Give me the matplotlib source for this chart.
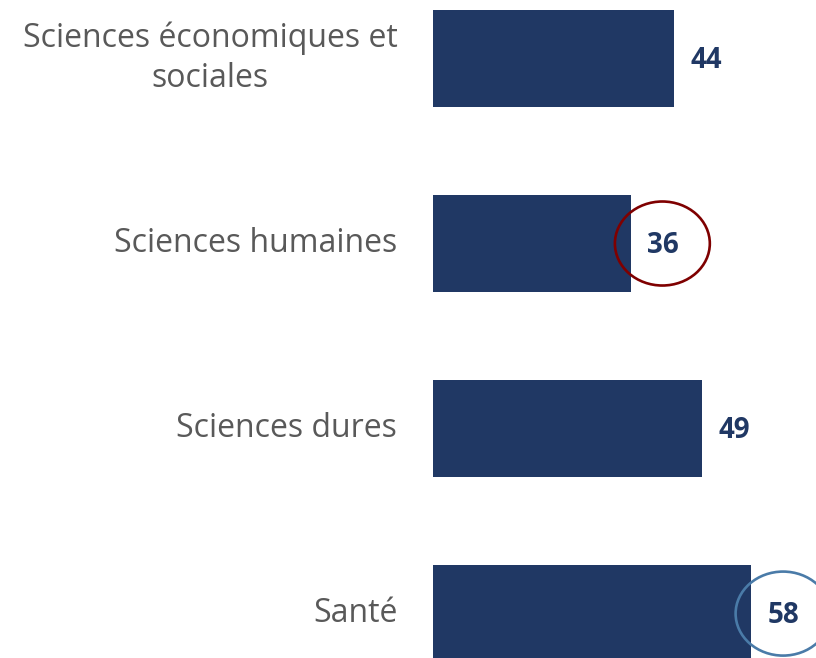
import matplotlib.pyplot as plt
from matplotlib.patches import Ellipse

categories = ["Sciences économiques et\nsociales", "Sciences humaines", "Sciences dures", "Santé"]
values = [44, 36, 49, 58]
# circled values and the colour of their ring
highlights = {1: "#7F0000", 3: "#4A7BA8"}

bar_color = "#203864"
label_color = "#595959"

plt.rcParams["font.family"] = ["Open Sans", "DejaVu Sans"]

fig = plt.figure(figsize=(8.16, 6.58), dpi=100)
ax = fig.add_axes([433 / 816, 0, 383 / 816, 1])

y = list(range(len(categories)))
ax.barh(y, values, height=0.524, color=bar_color, zorder=2)

ax.set_xlim(0, 69.8)
ax.set_ylim(3.24, -0.316)

for i, v in enumerate(values):
    ax.text(v + 3.0, i + 0.01, str(v), ha="left", va="center", fontsize=20,
            fontweight="bold", color=bar_color, zorder=4)
    if i in highlights:
        ax.add_patch(Ellipse((v + 5.8, i), 17.3, 0.454, fill=False,
                             edgecolor=highlights[i], linewidth=1.9,
                             zorder=5, clip_on=False))

# category labels at the left of the bars
for i, cat in enumerate(categories):
    ax.text(-6.5, i, cat, ha="right", va="center",
            fontsize=23, color=label_color, linespacing=1.3,
            multialignment="center")

ax.set_xticks([])
ax.set_yticks([])
for s in ax.spines.values():
    s.set_visible(False)

fig.savefig("out.png", dpi=100)
